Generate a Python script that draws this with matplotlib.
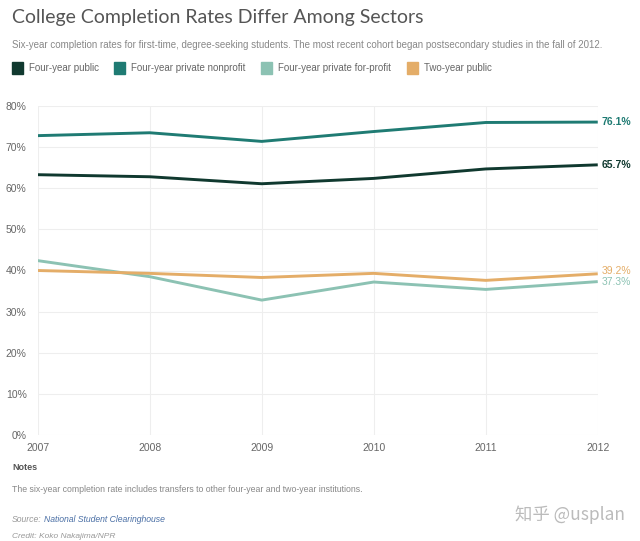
import matplotlib
matplotlib.use("Agg")
import matplotlib.pyplot as plt
from matplotlib.patches import Rectangle

years = [2007, 2008, 2009, 2010, 2011, 2012]
public4 = [63.3, 62.8, 61.1, 62.4, 64.7, 65.7]
nonprofit4 = [72.8, 73.5, 71.4, 73.8, 76.0, 76.1]
forprofit4 = [42.4, 38.5, 32.8, 37.2, 35.4, 37.3]
public2 = [40.0, 39.3, 38.3, 39.3, 37.6, 39.2]

names = ["Four-year public", "Four-year private nonprofit",
         "Four-year private for-profit", "Two-year public"]
colors = ["#10392f", "#1f7b73", "#8cc2b3", "#e4ad68"]
series = [public4, nonprofit4, forprofit4, public2]

plt.rcParams['font.family'] = ['Liberation Sans', 'DejaVu Sans']

fig = plt.figure(figsize=(6.4, 5.41), dpi=100)
ax = fig.add_axes([0.059, 0.196, 0.875, 0.608])

for s, c, n in zip(series, colors, names):
    ax.plot(years, s, color=c, lw=2.1, label=n, solid_capstyle='butt')

ax.set_xlim(2007, 2012)
ax.set_ylim(0, 80)
ax.set_xticks(years)
ax.set_yticks(range(0, 81, 10))
ax.set_yticklabels([f"{v}%" for v in range(0, 81, 10)])
ax.grid(True, color="#eeeeee", lw=0.8)
ax.set_axisbelow(True)
for sp in ax.spines.values():
    sp.set_visible(False)
ax.tick_params(length=0, labelsize=7.5, colors="#666666")
ax.tick_params(axis='y', pad=8)
ax.tick_params(axis='x', pad=6)

# end labels
weights = ["bold", "bold", "normal", "normal"]
offsets = [0, 0, 0, 0.8]
for s, c, w, o in zip(series, colors, weights, offsets):
    ax.annotate(f"{s[-1]:.1f}%", xy=(years[-1], s[-1] + o), xytext=(3, 0),
                textcoords="offset points", va="center", ha="left",
                fontsize=7.5, color=c, fontweight=w, annotation_clip=False)

fig.text(0.019, 0.968, "College Completion Rates Differ Among Sectors",
         fontsize=14, color="#555555", va="center", family=['Lato', 'DejaVu Sans'])
fig.text(0.019, 0.917, "Six-year completion rates for first-time, degree-seeking students. "
         "The most recent cohort began postsecondary studies in the fall of 2012.",
         fontsize=7, color="#888888", va="center")

# legend
lx = [0.019, 0.178, 0.408, 0.636]
for x, c, n in zip(lx, colors, names):
    fig.patches.append(Rectangle((x, 0.864), 0.017, 0.022, transform=fig.transFigure,
                                 color=c, figure=fig))
    fig.text(x + 0.027, 0.875, n, fontsize=7, color="#666666", va="center")

fig.text(0.019, 0.135, "Notes", fontsize=6.5, color="#555555", fontweight="bold", va="center")
fig.text(0.019, 0.096, "The six-year completion rate includes transfers to other four-year "
         "and two-year institutions.", fontsize=6.3, color="#888888", va="center")
fig.text(0.019, 0.040, "Source:", fontsize=6.2, color="#999999", style="italic", va="center")
fig.text(0.069, 0.040, "National Student Clearinghouse", fontsize=6.2, color="#4a6fa5",
         style="italic", va="center")
fig.text(0.019, 0.008, "Credit: Koko Nakajima/NPR", fontsize=6, color="#999999",
         style="italic", va="center")
fig.text(0.805, 0.048, "知乎 @usplan", fontsize=12.5, color="#bbbbbb", va="center",
         ha="left", family=['Noto Sans CJK SC', 'DejaVu Sans'])

fig.savefig("out.png", dpi=100)
